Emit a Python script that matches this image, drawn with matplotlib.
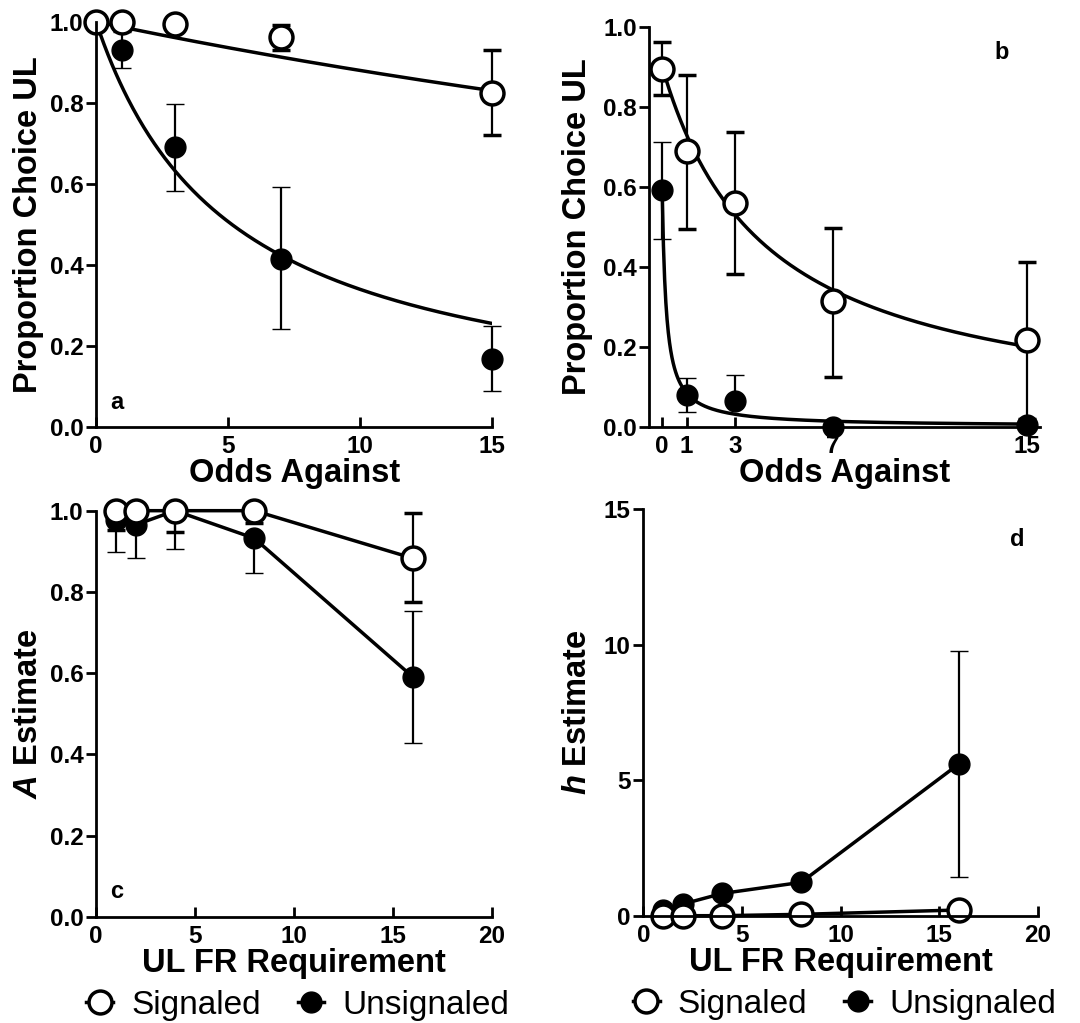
import numpy as np
import matplotlib
matplotlib.use("Agg")
import matplotlib.pyplot as plt
from matplotlib.lines import Line2D

plt.rcParams['font.family'] = ['Liberation Sans', 'DejaVu Sans']
plt.rcParams['mathtext.fontset'] = 'custom'
plt.rcParams['mathtext.it'] = 'Liberation Sans:italic:bold'
plt.rcParams['mathtext.rm'] = 'Liberation Sans:bold'

# panel a: odds against, FR 1
odds_a = [0, 1, 3, 7, 15]
sig_a = [1.0, 1.0, 0.994, 0.961, 0.825]
sig_a_lo = [1.0, 1.0, 0.994, 0.931, 0.721]
sig_a_hi = [1.0, 1.0, 0.994, 0.993, 0.931]
uns_a = [1.0, 0.931, 0.690, 0.414, 0.167]
uns_a_lo = [1.0, 0.886, 0.581, 0.240, 0.087]
uns_a_hi = [1.0, 0.975, 0.797, 0.593, 0.248]
fit_a_sig = (1.0, 0.0137)   # A, h
fit_a_uns = (1.0, 0.195)

# panel b: odds against, FR 16
odds_b = [0, 1, 3, 7, 15]
sig_b = [0.894, 0.688, 0.559, 0.313, 0.216]
sig_b_lo = [0.828, 0.494, 0.382, 0.124, 0.018]
sig_b_hi = [0.962, 0.880, 0.736, 0.497, 0.411]
uns_b = [0.591, 0.080, 0.063, 0.0, 0.005]
uns_b_lo = [0.469, 0.036, 0.063, 0.0, 0.005]
uns_b_hi = [0.712, 0.122, 0.128, 0.0, 0.005]
fit_b_sig = (0.90, 0.233)
fit_b_uns = (0.59, 6.0)

# panels c, d: parameter estimates by UL FR requirement
fr = [1, 2, 4, 8, 16]
A_sig = [1.0, 1.0, 1.0, 1.0, 0.883]
A_sig_lo = [0.952, 1.0, 0.947, 0.969, 0.776]
A_sig_hi = [1.0, 1.0, 1.0, 1.0, 0.994]
A_uns = [0.977, 0.965, 1.0, 0.932, 0.591]
A_uns_lo = [0.899, 0.883, 0.905, 0.846, 0.429]
A_uns_hi = [0.977, 0.965, 1.0, 0.932, 0.753]
h_sig = [0.0, 0.0, 0.0, 0.05, 0.21]
h_uns = [0.21, 0.43, 0.82, 1.23, 5.60]
h_uns_lo = [0.21, 0.43, 0.82, 1.23, 1.415]
h_uns_hi = [0.21, 0.43, 0.82, 1.23, 9.76]

TICK_FS = 17.5
LAB_FS = 23.5
open_style = dict(marker='o', ms=16.5, mfc='white', mec='black', mew=2.5)
fill_style = dict(marker='o', ms=15, mfc='black', mec='black', mew=1)


def style_axes(ax):
    for s in ['top', 'right']:
        ax.spines[s].set_visible(False)
    for s in ['left', 'bottom']:
        ax.spines[s].set_linewidth(2)
    ax.tick_params(axis='y', direction='out', length=7, width=2, labelsize=TICK_FS, pad=2)
    ax.tick_params(axis='x', direction='in', length=7, width=2, labelsize=TICK_FS, pad=6)
    for lab in ax.get_xticklabels() + ax.get_yticklabels():
        lab.set_fontweight('bold')


def ebar(ax, x, y, lo, hi, style, ls='none', lw=2.5):
    y = np.array(y)
    err = [y - np.array(lo), np.array(hi) - y]
    ax.errorbar(x, y, yerr=err, ls=ls, lw=lw, color='black', ecolor='black',
                elinewidth=1.6, capsize=6.5, capthick=1.8, clip_on=False, **style)


def hyperbola(A, h, x):
    return A / (1 + h * x)


def panel_letter(ax, s, x, y):
    ax.text(x, y, s, transform=ax.transAxes, fontsize=17, fontweight='bold',
            ha='center', va='center')


fig = plt.figure(figsize=(10.8, 10.23), dpi=100)
ax_a = fig.add_axes([0.0889, 0.5829, 0.3670, 0.3959])
ax_b = fig.add_axes([0.6012, 0.5829, 0.3618, 0.3910])
ax_c = fig.add_axes([0.0889, 0.1039, 0.3664, 0.3969])
ax_d = fig.add_axes([0.5957, 0.1049, 0.3652, 0.3973])

ylabs = ['0.0', '0.2', '0.4', '0.6', '0.8', '1.0']

# a
xs = np.linspace(0, 15, 300)
ax_a.plot(xs, hyperbola(*fit_a_sig, xs), color='black', lw=2.5)
ax_a.plot(xs, hyperbola(*fit_a_uns, xs), color='black', lw=2.5)
ebar(ax_a, odds_a, uns_a, uns_a_lo, uns_a_hi, fill_style)
ebar(ax_a, odds_a, sig_a, sig_a_lo, sig_a_hi, open_style)
ax_a.set_xlim(0, 15)
ax_a.set_ylim(0, 1.0)
ax_a.set_xticks([0, 5, 10, 15])
ax_a.set_yticks(np.arange(0, 1.01, 0.2))
ax_a.set_yticklabels(ylabs)
ax_a.set_xlabel('Odds Against', fontsize=LAB_FS, fontweight='bold', labelpad=0)
ax_a.set_ylabel('Proportion Choice UL', fontsize=LAB_FS, fontweight='bold', labelpad=4)
panel_letter(ax_a, 'a', 0.053, 0.059)
style_axes(ax_a)

# b
ax_b.plot(xs, hyperbola(*fit_b_sig, xs), color='black', lw=2.5)
ax_b.plot(xs, hyperbola(*fit_b_uns, xs), color='black', lw=2.5)
ebar(ax_b, odds_b, uns_b, uns_b_lo, uns_b_hi, fill_style)
ebar(ax_b, odds_b, sig_b, sig_b_lo, sig_b_hi, open_style)
ax_b.set_xlim(-0.53, 15.52)
ax_b.set_ylim(0, 1.0)
ax_b.set_xticks(odds_b)
ax_b.set_yticks(np.arange(0, 1.01, 0.2))
ax_b.set_yticklabels(ylabs)
ax_b.set_xlabel('Odds Against', fontsize=LAB_FS, fontweight='bold', labelpad=0)
ax_b.set_ylabel('Proportion Choice UL', fontsize=LAB_FS, fontweight='bold', labelpad=7)
panel_letter(ax_b, 'b', 0.903, 0.935)
style_axes(ax_b)

# c
ebar(ax_c, fr, A_uns, A_uns_lo, A_uns_hi, fill_style, ls='-')
ebar(ax_c, fr, A_sig, A_sig_lo, A_sig_hi, open_style, ls='-')
ax_c.set_xlim(0, 20)
ax_c.set_ylim(0, 1.0)
ax_c.set_xticks([0, 5, 10, 15, 20])
ax_c.set_yticks(np.arange(0, 1.01, 0.2))
ax_c.set_yticklabels(ylabs)
ax_c.set_xlabel('UL FR Requirement', fontsize=LAB_FS, fontweight='bold', labelpad=0)
ax_c.set_ylabel('$A$ Estimate', fontsize=LAB_FS, fontweight='bold', labelpad=4)
panel_letter(ax_c, 'c', 0.053, 0.062)
style_axes(ax_c)

# d
ebar(ax_d, fr, h_uns, h_uns_lo, h_uns_hi, fill_style, ls='-')
ebar(ax_d, fr, h_sig, h_sig, h_sig, open_style, ls='-')
ax_d.set_xlim(0, 20)
ax_d.set_ylim(0, 15)
ax_d.set_xticks([0, 5, 10, 15, 20])
ax_d.set_yticks([0, 5, 10, 15])
ax_d.set_xlabel('UL FR Requirement', fontsize=LAB_FS, fontweight='bold', labelpad=0)
ax_d.set_ylabel('$h$ Estimate', fontsize=LAB_FS, fontweight='bold', labelpad=8)
panel_letter(ax_d, 'd', 0.948, 0.925)
style_axes(ax_d)

handles = [Line2D([], [], color='black', lw=2.5, **open_style),
           Line2D([], [], color='black', lw=2.5, **fill_style)]
for ax in (ax_c, ax_d):
    ax.legend(handles, ['Signaled', 'Unsignaled'], loc='center',
              bbox_to_anchor=(0.51, -0.218), ncol=2, frameon=False,
              fontsize=24, handlelength=0.8, handletextpad=0.55, columnspacing=1.1,
              borderpad=0)

fig.savefig('out.png', dpi=100)
